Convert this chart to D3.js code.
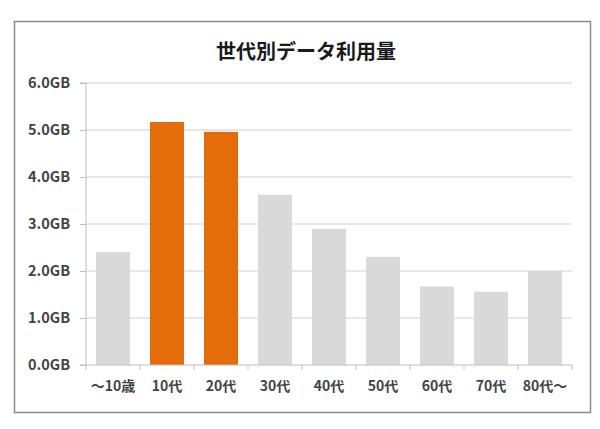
<!DOCTYPE html>
<html><head><meta charset="utf-8">
<script src="https://cdn.jsdelivr.net/npm/d3@7/dist/d3.min.js"></script>
<style>body{margin:0;background:#fff;}svg{display:block;}</style>
</head><body>
<svg id="c" width="600" height="429"></svg>
<script>
const categories = ["〜10歳","10代","20代","30代","40代","50代","60代","70代","80代〜"];
const values = [2.4, 5.17, 4.96, 3.62, 2.9, 2.3, 1.67, 1.56, 2.0];
const highlighted = ["10代","20代"];
const yTicks = [0,1,2,3,4,5,6];
const title = "世代別データ利用量";

const svg = d3.select("#c");
const font = "'Noto Sans CJK JP', 'Noto Sans', sans-serif";
svg.append("rect").attr("x",14.5).attr("y",21.5).attr("width",576).attr("height",391)
  .attr("fill","#fff").attr("stroke","#8c8c8c").attr("stroke-width",1.5);

const m = {left:86, right:572, top:83, bottom:365};
const x = d3.scaleBand().domain(categories).range([m.left,m.right]).paddingInner(0.37).paddingOuter(0.185);
const y = d3.scaleLinear().domain([0,6]).range([m.bottom,m.top]);

svg.append("text").attr("x",306).attr("y",59).attr("text-anchor","middle")
  .attr("font-family",font).attr("font-weight","bold").attr("font-size",20).attr("fill","#1a1a1a").text(title);

// grid
svg.append("g").selectAll("line").data(yTicks.slice(1)).join("line")
  .attr("x1",m.left).attr("x2",m.right).attr("y1",d=>y(d)).attr("y2",d=>y(d))
  .attr("stroke","#cfcfcf").attr("stroke-width",1.2);

// bars
svg.append("g").selectAll("rect").data(categories).join("rect")
  .attr("x",d=>x(d)).attr("width",x.bandwidth())
  .attr("y",(d,i)=>y(values[i])).attr("height",(d,i)=>y(0)-y(values[i]))
  .attr("fill",d=>highlighted.includes(d)?"#e46c0a":"#d9d9d9");

// y axis
const ya = svg.append("g").attr("transform",`translate(${m.left},0)`)
  .call(d3.axisLeft(y).tickValues(yTicks).tickSize(6).tickPadding(10).tickFormat(d=>d3.format(".1f")(d)+"GB"));
ya.select(".domain").attr("stroke","#bfbfbf").attr("d",`M-6,${m.top}H0V${m.bottom}H-6`);
ya.selectAll(".tick line").attr("stroke","#bfbfbf");
ya.selectAll("text").attr("font-family",font).attr("font-weight","bold").attr("font-size",14.5).attr("fill","#444");

// x axis
const xa = svg.append("g").attr("transform",`translate(0,${m.bottom})`)
  .call(d3.axisBottom(x).tickSize(0).tickPadding(16));
xa.select(".domain").attr("stroke","#bfbfbf").attr("d",`M${m.left},0H${m.right}`);
xa.selectAll("text").attr("font-family",font).attr("font-weight","bold").attr("font-size",14).attr("fill","#444");
const bounds = d3.range(categories.length+1).map(i=>m.left+i*(m.right-m.left)/categories.length);
xa.selectAll(".sep").data(bounds).join("line").attr("class","sep")
  .attr("x1",d=>d).attr("x2",d=>d).attr("y1",0).attr("y2",5).attr("stroke","#bfbfbf");
</script>
</body></html>
